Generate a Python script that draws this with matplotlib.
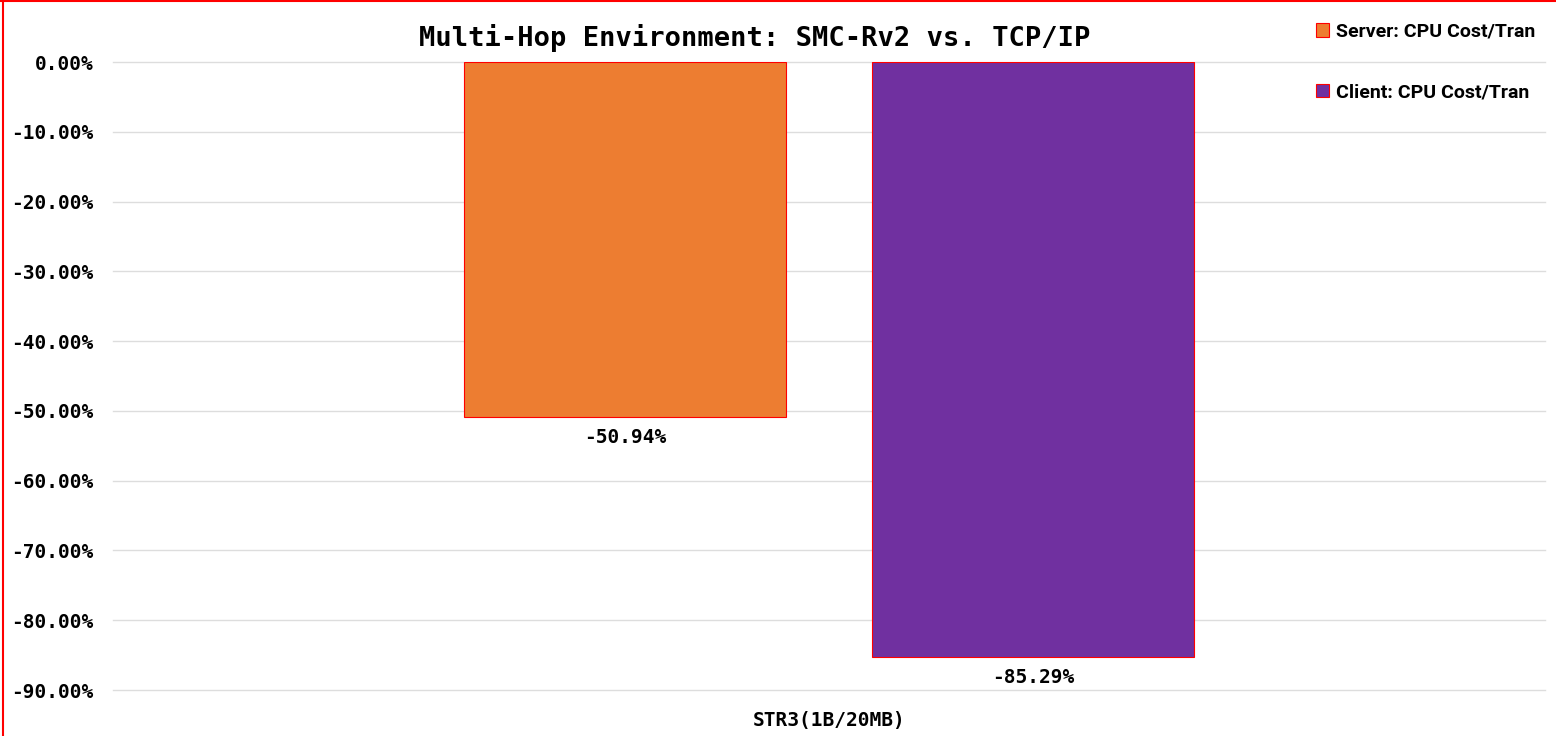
import matplotlib.pyplot as plt
from matplotlib.lines import Line2D
import numpy as np

categories = ['STR3(1B/20MB)']
series_names = ['Server: CPU Cost/Tran', 'Client: CPU Cost/Tran']
series_values = [[-50.94], [-85.29]]
colors = ['#ED7D31', '#7030A0']
yticks = [0, -10, -20, -30, -40, -50, -60, -70, -80, -90]

fig = plt.figure(figsize=(15.56, 7.36), dpi=100)
ax = fig.add_axes([113 / 1556, 46 / 736, 1432 / 1556, 628 / 736])

x = np.arange(len(categories))
barWidth = 0.225
offsets = [-0.1425, 0.1425]
for name, vals, col, off in zip(series_names, series_values, colors, offsets):
    bars = ax.bar(x + off, vals, width=barWidth, color=col, edgecolor='red',
                  linewidth=0.8, label=name, zorder=3)
    for b, v in zip(bars, vals):
        ax.annotate(f'{v:.2f}%', (b.get_x() + b.get_width() / 2, v),
                    xytext=(0, -20), textcoords='offset pixels',
                    ha='center', va='center', fontsize=14,
                    fontweight='bold', family='DejaVu Sans Mono')

ax.set_xlim(-0.5, 0.5)
ax.set_ylim(-90, 0)
ax.set_yticks(yticks)
ax.set_yticklabels([f'{t:.2f}%' for t in yticks], fontsize=14,
                   fontweight='bold', family='DejaVu Sans Mono')
ax.set_xticks(x)
ax.set_xticklabels(categories, fontsize=14, fontweight='bold',
                   family='DejaVu Sans Mono')
ax.tick_params(axis='both', length=0)
ax.tick_params(axis='y', pad=14)
ax.tick_params(axis='x', pad=15)
ax.grid(axis='y', color='#dddddd', linewidth=1, zorder=0)
for gl in ax.get_ygridlines():
    gl.set_clip_on(False)
for s in ax.spines.values():
    s.set_visible(False)

fig.text(0.485, 1 - 38 / 736, 'Multi-Hop Environment: SMC-Rv2 vs. TCP/IP',
         ha='center', va='center', fontsize=19.5, fontweight='bold',
         family='DejaVu Sans Mono')

leg = fig.legend(loc='upper right', bbox_to_anchor=(1553 / 1556, 1 - 5 / 736),
                 frameon=False, prop={'family': 'Roboto', 'weight': 'bold', 'size': 14},
                 handlelength=0.7, handleheight=0.7, handletextpad=0.35,
                 labelspacing=2.2)

# red outline along the left and top edges of the figure
fig.add_artist(Line2D([0.002, 0.002], [0, 1], color='red', linewidth=1.5,
                      transform=fig.transFigure))
fig.add_artist(Line2D([0, 1], [0.999, 0.999], color='red', linewidth=1.5,
                      transform=fig.transFigure))

plt.savefig('out.png', dpi=100)
